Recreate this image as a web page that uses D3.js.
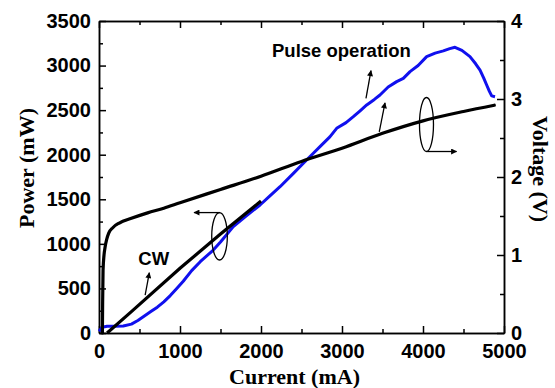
<!DOCTYPE html>
<html>
<head>
<meta charset="utf-8">
<script src="https://cdn.jsdelivr.net/npm/d3@7"></script>
<style>
  body { margin: 0; background: #fff; }
  .tick text { font-family: "Liberation Sans", Arial, sans-serif; font-weight: bold; font-size: 20px; fill: #000; }
  .axis path, .axis line { stroke: #000; stroke-width: 1.5; }
</style>
</head>
<body>
<div id="chart"></div>
<script>
// current (mA) vs power (mW) in pulse operation
const pulseCurrent = [0, 40, 100, 200, 300, 400, 480, 560, 640, 720, 800, 880, 960, 1040, 1144, 1250, 1411, 1500, 1658, 1800, 1988, 2100, 2235, 2400, 2523, 2646, 2750, 2850, 2934, 3050, 3140, 3220, 3305, 3400, 3469, 3570, 3675, 3757, 3840, 3940, 4045, 4150, 4251, 4330, 4395, 4480, 4580, 4650, 4704, 4750, 4786, 4820, 4848, 4889];
const pulsePower = [20, 65, 75, 75, 78, 100, 140, 190, 240, 290, 350, 420, 500, 580, 700, 800, 931, 1020, 1193, 1300, 1436, 1530, 1641, 1790, 1904, 2016, 2110, 2200, 2296, 2360, 2427, 2490, 2558, 2620, 2670, 2760, 2820, 2857, 2932, 3000, 3100, 3140, 3165, 3190, 3205, 3170, 3100, 3020, 2950, 2860, 2782, 2710, 2660, 2651];

// CW power
const cwCurrent = [100, 400, 1000, 1500, 2000];
const cwPower = [0, 240, 726, 1110, 1480];

// CW voltage (right axis)
const voltCurrent = [42, 45, 50, 62, 75, 95, 120, 170, 250, 400, 600, 800, 1000, 1500, 2000, 2500, 3000, 3500, 4000, 4500, 4880];
const voltage = [0, 0.4, 0.8, 1.0, 1.1, 1.2, 1.28, 1.35, 1.41, 1.47, 1.54, 1.6, 1.67, 1.84, 2.01, 2.2, 2.37, 2.56, 2.72, 2.84, 2.92];

const xTicks = [0, 1000, 2000, 3000, 4000, 5000];
const yTicks = [0, 500, 1000, 1500, 2000, 2500, 3000, 3500];
const vTicks = [0, 1, 2, 3, 4];

const margin = { top: 21, right: 51, bottom: 55, left: 99 };
const width = 555 - margin.left - margin.right;
const height = 388 - margin.top - margin.bottom;

const svg = d3.select("#chart").append("svg")
    .attr("width", 555)
    .attr("height", 388);

const g = svg.append("g")
    .attr("transform", `translate(${margin.left},${margin.top})`);

const x = d3.scaleLinear().domain([0, 5000]).range([0, width]);
const y = d3.scaleLinear().domain([0, 3500]).range([height, 0]);
const yv = d3.scaleLinear().domain([0, 4]).range([height, 0]);

const fmt = d3.format("d");

// arrowhead marker
svg.append("defs").append("marker")
    .attr("id", "arrow")
    .attr("viewBox", "0 0 10 10")
    .attr("refX", 9).attr("refY", 5)
    .attr("markerWidth", 8).attr("markerHeight", 6)
    .attr("markerUnits", "userSpaceOnUse")
    .attr("orient", "auto")
    .append("path")
    .attr("d", "M0,0 L10,5 L0,10 Z")
    .attr("fill", "#000");

// minor ticks (halfway between majors)
const xMinor = xTicks.slice(0, -1).map(d => d + 500);
const yMinor = yTicks.slice(0, -1).map(d => d + 250);
const vMinor = vTicks.slice(0, -1).map(d => d + 0.5);

// bottom
g.append("g").attr("class", "axis").attr("transform", `translate(0,${height})`)
    .call(d3.axisBottom(x).tickValues(xTicks).tickFormat(fmt).tickSize(-7).tickPadding(11).tickSizeOuter(0));
g.append("g").attr("class", "axis").attr("transform", `translate(0,${height})`)
    .call(d3.axisBottom(x).tickValues(xMinor).tickSize(-4).tickFormat("").tickSizeOuter(0));
// top
g.append("g").attr("class", "axis")
    .call(d3.axisTop(x).tickValues(xTicks).tickSize(-7).tickFormat("").tickSizeOuter(0));
g.append("g").attr("class", "axis")
    .call(d3.axisTop(x).tickValues(xMinor).tickSize(-4).tickFormat("").tickSizeOuter(0));
// left
g.append("g").attr("class", "axis")
    .call(d3.axisLeft(y).tickValues(yTicks).tickFormat(fmt).tickSize(-7).tickPadding(8).tickSizeOuter(0));
g.append("g").attr("class", "axis")
    .call(d3.axisLeft(y).tickValues(yMinor).tickSize(-4).tickFormat("").tickSizeOuter(0));
// right
g.append("g").attr("class", "axis").attr("transform", `translate(${width},0)`)
    .call(d3.axisRight(yv).tickValues(vTicks).tickFormat(fmt).tickSize(-7).tickPadding(7).tickSizeOuter(0));
g.append("g").attr("class", "axis").attr("transform", `translate(${width},0)`)
    .call(d3.axisRight(yv).tickValues(vMinor).tickSize(-4).tickFormat("").tickSizeOuter(0));

// curves
const pulseLine = d3.line().x(i => x(pulseCurrent[i])).y(i => y(pulsePower[i]));
g.append("path")
    .attr("d", pulseLine(d3.range(pulseCurrent.length)))
    .attr("fill", "none").attr("stroke", "#1010ee").attr("stroke-width", 3)
    .attr("stroke-linejoin", "round");

const cwLine = d3.line().x(i => x(cwCurrent[i])).y(i => y(cwPower[i]));
g.append("path")
    .attr("d", cwLine(d3.range(cwCurrent.length)))
    .attr("fill", "none").attr("stroke", "#000").attr("stroke-width", 3.2);

const voltLine = d3.line().curve(d3.curveMonotoneX)
    .x(i => x(voltCurrent[i])).y(i => yv(voltage[i]));
g.append("path")
    .attr("d", voltLine(d3.range(voltCurrent.length)))
    .attr("fill", "none").attr("stroke", "#000").attr("stroke-width", 3.2)
    .attr("stroke-linecap", "round");

// annotations
function arrow(x1, y1, x2, y2) {
    g.append("line")
        .attr("x1", x1).attr("y1", y1).attr("x2", x2).attr("y2", y2)
        .attr("stroke", "#000").attr("stroke-width", 1.3)
        .attr("marker-end", "url(#arrow)");
}

const sans = '"Liberation Sans", Arial, sans-serif';
g.append("text").attr("x", x(2136)).attr("y", y(3096))
    .attr("font-family", sans).attr("font-weight", "bold").attr("font-size", "18.5px")
    .text("Pulse operation");
g.append("text").attr("x", x(485)).attr("y", y(763))
    .attr("font-family", sans).attr("font-weight", "bold").attr("font-size", "18.5px")
    .text("CW");

arrow(x(570), y(424), x(621), y(676));
arrow(x(3296), y(2633), x(3358), y(2943));
arrow(x(3460), yv(2.58), x(3531), yv(2.95));

// ellipse grouping CW + pulse power (left axis)
g.append("ellipse").attr("cx", x(1488)).attr("cy", y(1085)).attr("rx", 7.8).attr("ry", 23.7)
    .attr("fill", "none").attr("stroke", "#000").attr("stroke-width", 1.3);
arrow(x(1494), y(1085) - 23.7, x(1173), y(1085) - 23.7);

// ellipse on voltage curve (right axis)
g.append("ellipse").attr("cx", x(4043)).attr("cy", yv(2.673)).attr("rx", 7).attr("ry", 27)
    .attr("fill", "none").attr("stroke", "#000").attr("stroke-width", 1.3);
arrow(x(4050), yv(2.673) + 27, x(4414), yv(2.673) + 27);

// axis titles
const serif = '"Liberation Serif", "Times New Roman", serif';
svg.append("text")
    .attr("x", margin.left + width / 2 - 7).attr("y", 384)
    .attr("text-anchor", "middle")
    .attr("font-family", serif).attr("font-weight", "bold").attr("font-size", "22px")
    .text("Current (mA)");

svg.append("text")
    .attr("transform", "translate(34,168) rotate(-90)")
    .attr("text-anchor", "middle")
    .attr("font-family", serif).attr("font-weight", "bold").attr("font-size", "22px")
    .text("Power (mW)");

svg.append("text")
    .attr("transform", "translate(533,169) rotate(90)")
    .attr("text-anchor", "middle")
    .attr("font-family", serif).attr("font-weight", "bold").attr("font-size", "22px")
    .text("Voltage (V)");
</script>
</body>
</html>
